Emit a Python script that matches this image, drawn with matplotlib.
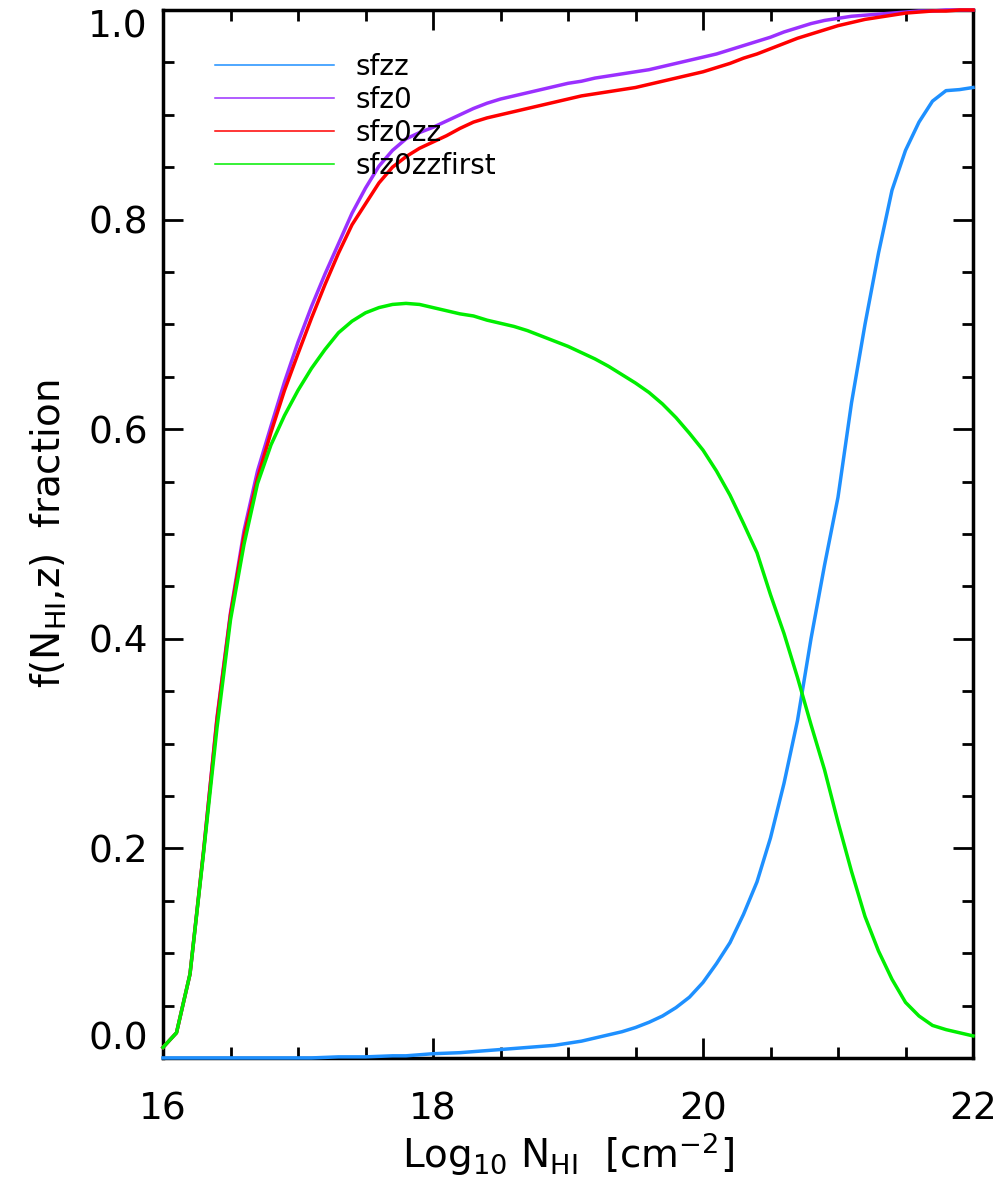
import numpy as np
import matplotlib
matplotlib.use("Agg")
import matplotlib.pyplot as plt
from matplotlib.ticker import MultipleLocator, FormatStrFormatter

plt.rcParams["font.family"] = ["DejaVu Sans"]
plt.rcParams["mathtext.fontset"] = "dejavusans"

# log10 N_HI grid
log_nhi = np.round(np.arange(16.0, 22.01, 0.1), 1)

sfzz = [0.000, 0.000, 0.000, 0.000, 0.000, 0.000, 0.000, 0.000, 0.000, 0.000,
        0.000, 0.000, 0.0005, 0.001, 0.001, 0.001, 0.0015, 0.002, 0.002, 0.003,
        0.004, 0.0045, 0.005, 0.006, 0.007, 0.008, 0.009, 0.010, 0.011, 0.012,
        0.014, 0.016, 0.019, 0.022, 0.025, 0.029, 0.034, 0.040, 0.048, 0.058,
        0.072, 0.090, 0.110, 0.137, 0.168, 0.210, 0.262, 0.322, 0.400, 0.470,
        0.535, 0.625, 0.700, 0.768, 0.828, 0.866, 0.893, 0.913, 0.923, 0.924,
        0.926]

sfz0 = [0.010, 0.024, 0.080, 0.197, 0.325, 0.425, 0.503, 0.560, 0.603, 0.645,
        0.683, 0.717, 0.748, 0.777, 0.806, 0.830, 0.851, 0.866, 0.877, 0.883,
        0.888, 0.894, 0.900, 0.906, 0.911, 0.915, 0.918, 0.921, 0.924, 0.927,
        0.930, 0.932, 0.935, 0.937, 0.939, 0.941, 0.943, 0.946, 0.949, 0.952,
        0.955, 0.958, 0.962, 0.966, 0.970, 0.974, 0.979, 0.983, 0.987, 0.990,
        0.992, 0.994, 0.995, 0.996, 0.997, 0.998, 0.999, 0.999, 1.000, 1.000,
        1.000]

sfz0zz = [0.010, 0.024, 0.080, 0.197, 0.323, 0.423, 0.498, 0.553, 0.597, 0.637,
          0.672, 0.706, 0.738, 0.768, 0.795, 0.815, 0.835, 0.850, 0.860, 0.868,
          0.874, 0.880, 0.887, 0.893, 0.897, 0.900, 0.903, 0.906, 0.909, 0.912,
          0.915, 0.918, 0.920, 0.922, 0.924, 0.926, 0.929, 0.932, 0.935, 0.938,
          0.941, 0.945, 0.949, 0.954, 0.958, 0.963, 0.968, 0.973, 0.977, 0.981,
          0.985, 0.988, 0.991, 0.993, 0.995, 0.997, 0.998, 0.999, 0.999, 1.000,
          1.000]

sfz0zzfirst = [0.010, 0.024, 0.080, 0.195, 0.315, 0.418, 0.490, 0.548, 0.585, 0.613,
               0.637, 0.658, 0.676, 0.692, 0.703, 0.711, 0.716, 0.719, 0.720, 0.719,
               0.716, 0.713, 0.710, 0.708, 0.704, 0.701, 0.698, 0.694, 0.689, 0.684,
               0.679, 0.673, 0.667, 0.660, 0.652, 0.644, 0.635, 0.624, 0.611, 0.596,
               0.580, 0.560, 0.537, 0.510, 0.482, 0.442, 0.405, 0.363, 0.318, 0.275,
               0.225, 0.178, 0.135, 0.102, 0.075, 0.053, 0.040, 0.031, 0.027, 0.024,
               0.021]

y_ticks = [0.0, 0.2, 0.4, 0.6, 0.8, 1.0]
x_ticks = [16, 18, 20, 22]

series = [("sfzz", sfzz, "#1e90ff"),
          ("sfz0", sfz0, "#9b30ff"),
          ("sfz0zz", sfz0zz, "#ff0000"),
          ("sfz0zzfirst", sfz0zzfirst, "#00ee00")]

fig = plt.figure(figsize=(10, 11.86), dpi=100)
ax = fig.add_axes([0.163, 0.108, 0.810, 0.8836])

for name, vals, col in series:
    ax.plot(log_nhi, vals, color=col, linewidth=2.5, label=name, clip_on=False, zorder=3)

ax.set_xlim(16, 22)
ax.set_ylim(0, 1.0)
ax.set_xticks(x_ticks)
ax.set_yticks(y_ticks)
ax.xaxis.set_minor_locator(MultipleLocator(0.5))
ax.yaxis.set_minor_locator(MultipleLocator(0.05))
ax.yaxis.set_major_formatter(FormatStrFormatter("%.1f"))

ax.tick_params(which="both", direction="in", top=True, right=True, width=2)
ax.tick_params(which="major", length=14.5, labelsize=27)
ax.tick_params(which="minor", length=8)
ax.tick_params(axis="x", which="major", pad=24)
ax.tick_params(axis="y", which="major", pad=11)
for sp in ax.spines.values():
    sp.set_linewidth(2.5)

# keep the end labels inside the frame, as in the original
yt = ax.yaxis.get_major_ticks()
yt[0].label1.set_verticalalignment("bottom")
yt[-1].label1.set_verticalalignment("top")

ax.set_xlabel(r"Log$_{10}$ N$_{\mathrm{HI}}$  [cm$^{-2}$]", fontsize=28, labelpad=2)
ax.set_ylabel(r"f(N$_{\mathrm{HI}}$,z)  fraction", fontsize=28, labelpad=14)

leg = ax.legend(loc="upper left", bbox_to_anchor=(0.064, 0.959), frameon=False,
                fontsize=20, handlelength=4.3, handletextpad=0.75, labelspacing=0.18,
                borderpad=0, borderaxespad=0)
for line in leg.get_lines():
    line.set_linewidth(1.1)

fig.savefig("out.png", dpi=100)
